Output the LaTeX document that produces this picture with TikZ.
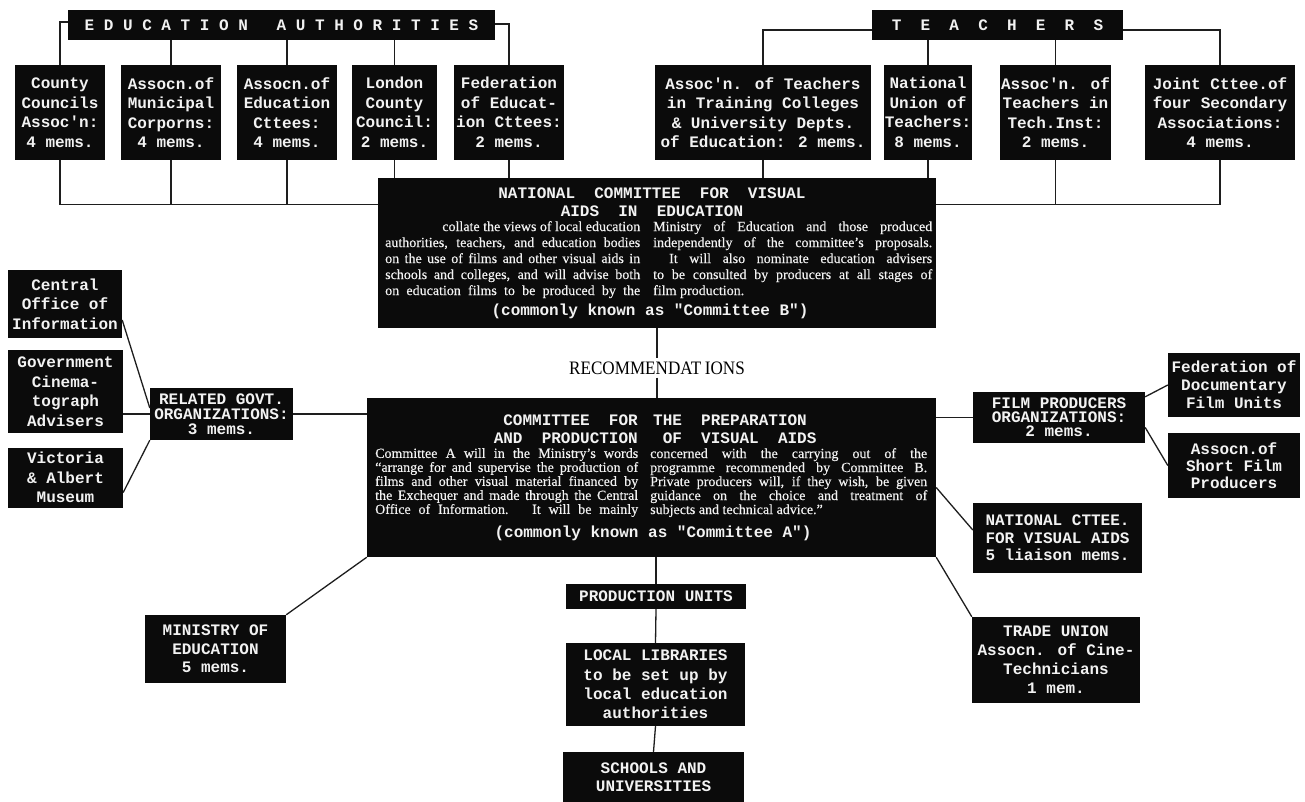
\documentclass[tikz,border=0pt]{standalone}
\usepackage{fontspec}
\usepackage{graphicx}
\setmainfont{Liberation Serif}
\newfontfamily\typer{Liberation Mono}
\newfontfamily\prosefont{Liberation Serif}[Ligatures=TeX,FakeBold=0.4]
\definecolor{ink}{HTML}{0B0B0B}
\definecolor{paper}{HTML}{F2F2F2}
\definecolor{rule}{HTML}{1E1E1E}
\begin{document}
\begin{tikzpicture}[x=1pt,y=-1pt,
  tw/.style={font={\typer\bfseries\fontsize{16}{#1}\selectfont}},
  tw/.default=19.5,
  card/.style={fill=ink, text=paper, inner sep=0pt, align=center, tw=#1},
  card/.default=19.5,
  banner/.style={fill=ink, text=paper, inner sep=0pt, tw},
  prose/.style={text=paper, inner sep=0pt, align=left, font={\prosefont\fontsize{14}{#1}\selectfont}},
  prose/.default=16,
  conn/.style={draw=rule, line width=1.3pt}]

\useasboundingbox[fill=white] (0,0) rectangle (1305,802);

% ---------- Education authorities ----------
\node[banner, minimum width=427, minimum height=30] (ea) at (281.5,25)
  {E~D~U~C~A~T~I~O~N~~~A~U~T~H~O~R~I~T~I~E~S};
\node[card, minimum width=90,  minimum height=95] (cca) at (60,112.5)  {County\\Councils\\Assoc'n:\\4 mems.};
\node[card, minimum width=100, minimum height=95] (amc) at (171,112.5) {Assocn.of\\Municipal\\Corporns:\\4 mems.};
\node[card, minimum width=100, minimum height=95] (aec) at (287,112.5) {Assocn.of\\Education\\Cttees:\\4 mems.};
\node[card, minimum width=85,  minimum height=95] (lcc) at (394.5,112.5) {London\\County\\Council:\\2 mems.};
\node[card, minimum width=110, minimum height=95] (fec) at (509,112.5) {Federation\\of Educat-\\ion Cttees:\\2 mems.};

% ---------- Teachers ----------
\node[banner, minimum width=251, minimum height=30] (tch) at (997.5,25)
  {T~~E~~A~~C~~H~~E~~R~~S};
\node[card, minimum width=216, minimum height=95] (atc) at (763,112.5)
  {Assoc'n. of Teachers\\in Training Colleges\\\& University Depts.\\of Education: 2 mems.};
\node[card, minimum width=88,  minimum height=95] (nut) at (928,112.5) {National\\Union of\\Teachers:\\8 mems.};
\node[card, minimum width=111, minimum height=95] (ati) at (1055.5,112.5) {Assoc'n. of\\Teachers in\\Tech.Inst:\\2 mems.};
\node[card, minimum width=150, minimum height=95] (jc)  at (1220,112.5) {Joint Cttee.of\\four Secondary\\Associations:\\4 mems.};

% ---------- Committee B ----------
\node[fill=ink, minimum width=558, minimum height=150, inner sep=0pt] (nb) at (657,253) {};
\node[text=paper, inner sep=0pt, align=center, tw=18] (nbt) at (652,202)
  {NATIONAL~~COMMITTEE~~FOR~~VISUAL\\AIDS~~IN~~EDUCATION};
\node[prose, anchor=north west] (nbl) at (385,221) {%
  \makebox[255pt][r]{collate the views of local education}\\
  \makebox[255pt][s]{authorities, teachers, and education bodies}\\
  \makebox[255pt][s]{on the use of films and other visual aids in}\\
  \makebox[255pt][s]{schools and colleges, and will advise both}\\
  \makebox[255pt][s]{on education films to be produced by the}};
\node[prose, anchor=north west] (nbr) at (653,221) {%
  \makebox[279pt][s]{Ministry of Education and those produced}\\
  \makebox[279pt][s]{independently of the committee's proposals.}\\
  \makebox[279pt][s]{\hspace*{16pt}It will also nominate education advisers}\\
  \makebox[279pt][s]{to be consulted by producers at all stages of}\\
  \makebox[279pt][l]{film production.}};
\node[text=paper, inner sep=0pt, tw] (nbc) at (650,311) {(commonly known as "Committee B")};

\node[inner sep=3pt, text=black, font={\fontsize{19}{19}\selectfont}] (rec) at (657,368)
  {\scalebox{0.9}[1]{RECOMMENDAT\hspace{4pt}IONS}};

% ---------- Committee A ----------
\node[fill=ink, minimum width=569, minimum height=159, inner sep=0pt] (na) at (651.5,477.5) {};
\node[text=paper, inner sep=0pt, align=right, tw=18, anchor=east] (natl) at (638,429)
  {COMMITTEE~~FOR\\AND~~PRODUCTION};
\node[text=paper, inner sep=0pt, align=left, tw=18, anchor=west] (natr) at (653,429)
  {THE~~PREPARATION\\~OF~~VISUAL~~AIDS};
\node[prose=14, anchor=north west] (nal) at (375,448) {%
  \makebox[263pt][s]{Committee A will in the Ministry's words}\\
  \makebox[263pt][s]{``arrange for and supervise the production of}\\
  \makebox[263pt][s]{films and other visual material financed by}\\
  \makebox[263pt][s]{the Exchequer and made through the Central}\\
  \makebox[263pt][s]{Office of Information.\hspace{6pt} It will be mainly}};
\node[prose=14, anchor=north west] (nar) at (650,448) {%
  \makebox[277pt][s]{concerned with the carrying out of the}\\
  \makebox[277pt][s]{programme recommended by Committee B.}\\
  \makebox[277pt][s]{Private producers will, if they wish, be given}\\
  \makebox[277pt][s]{guidance on the choice and treatment of}\\
  \makebox[277pt][l]{subjects and technical advice.''}};
\node[text=paper, inner sep=0pt, tw] (nac) at (653,533) {(commonly known as "Committee A")};

% ---------- Related government bodies ----------
\node[card, minimum width=114, minimum height=68] (co)  at (65,304)    {Central\\Office of\\Information};
\node[card, minimum width=115, minimum height=83] (gca) at (65.5,391.5) {Government\\Cinema-\\tograph\\Advisers};
\node[card, minimum width=115, minimum height=60] (va)  at (65.5,477.5) {Victoria\\\& Albert\\Museum};
\node[card=15, minimum width=143, minimum height=52] (rg) at (221.5,414) {RELATED GOVT.\\ORGANIZATIONS:\\3 mems.};
\node[card=18.5, minimum width=141, minimum height=68] (me) at (215.5,649) {MINISTRY OF\\EDUCATION\\5 mems.};

% ---------- Film producers and others ----------
\node[card=14, minimum width=172, minimum height=51] (fp) at (1059,417.5) {FILM PRODUCERS\\ORGANIZATIONS:\\2 mems.};
\node[card=18, minimum width=132, minimum height=64] (fdu) at (1234,385) {Federation of\\Documentary\\Film Units};
\node[card=17, minimum width=132, minimum height=65] (asf) at (1234,465.5) {Assocn.of\\Short Film\\Producers};
\node[card=17.5, minimum width=169, minimum height=70] (nca) at (1057.5,538) {NATIONAL CTTEE.\\FOR VISUAL AIDS\\5 liaison mems.};
\node[card=19, minimum width=168, minimum height=86] (tu) at (1056,660) {TRADE UNION\\Assocn. of Cine-\\Technicians\\1 mem.};

% ---------- Production chain ----------
\node[card, minimum width=180, minimum height=25] (pu) at (656,596.5) {PRODUCTION UNITS};
\node[card=19.2, minimum width=179, minimum height=83] (ll) at (655.5,684.5) {LOCAL LIBRARIES\\to be set up by\\local education\\authorities};
\node[card=18, minimum width=181, minimum height=50] (su) at (653.5,777) {SCHOOLS AND\\UNIVERSITIES};

% ---------- Connectors ----------
\path (nb.north west) ++(0,27) coordinate (jl);
\path (nb.north east) ++(0,27) coordinate (jr);

\draw[conn] ([yshift=3pt]ea.west) -| (cca.north);
\draw[conn] ([yshift=1pt]ea.east) -| (fec.north);
\draw[conn] (amc.north |- ea.south) -- (amc.north);
\draw[conn] (aec.north |- ea.south) -- (aec.north);
\draw[conn] (lcc.north |- ea.south) -- (lcc.north);
\draw[conn] (cca.south) |- (jl);
\draw[conn] (amc.south) -- (amc.south |- jl);
\draw[conn] (aec.south) -- (aec.south |- jl);
\draw[conn] (lcc.south) -- (lcc.south |- nb.north);
\draw[conn] (fec.south) -- (fec.south |- nb.north);

\draw[conn] ([yshift=-5pt]tch.west) -| (atc.north);
\draw[conn] ([yshift=-5pt]tch.east) -| (jc.north);
\draw[conn] (nut.north |- tch.south) -- (nut.north);
\draw[conn] (ati.north |- tch.south) -- (ati.north);
\draw[conn] (atc.south) -- (atc.south |- nb.north);
\draw[conn] (nut.south) -- (nut.south |- nb.north);
\draw[conn] (jc.south) |- (jr);
\draw[conn] (ati.south) -- (ati.south |- jr);

\draw[conn] (nb.south) -- (rec.north);
\draw[conn] (rec.south) -- (rec.south |- na.north);
\draw[conn] (na.south -| pu.north) -- (pu.north);
\draw[conn] (pu.south) -- (ll.north);
\draw[conn] (ll.south) -- (su.north);

\draw[conn] ([yshift=-16pt]co.east) -- ([yshift=6pt]rg.west);
\draw[conn] (rg.west -| gca.east) -- (rg.west);
\draw[conn] ([yshift=-15pt]va.east) -- (rg.south west);
\draw[conn] (rg.east) -- (rg.east -| na.west);
\draw[conn] (na.south west) -- (me.north east);

\draw[conn] (fp.west) -- (fp.west -| na.east);
\draw[conn] ([yshift=-5pt]fp.north east) -- (fdu.west);
\draw[conn] ([yshift=-10pt]fp.east) -- (asf.west);
\draw[conn] ([yshift=-10pt]na.east) -- ([yshift=8pt]nca.west);
\draw[conn] (na.south east) -- (tu.north west);
\end{tikzpicture}
\end{document}
